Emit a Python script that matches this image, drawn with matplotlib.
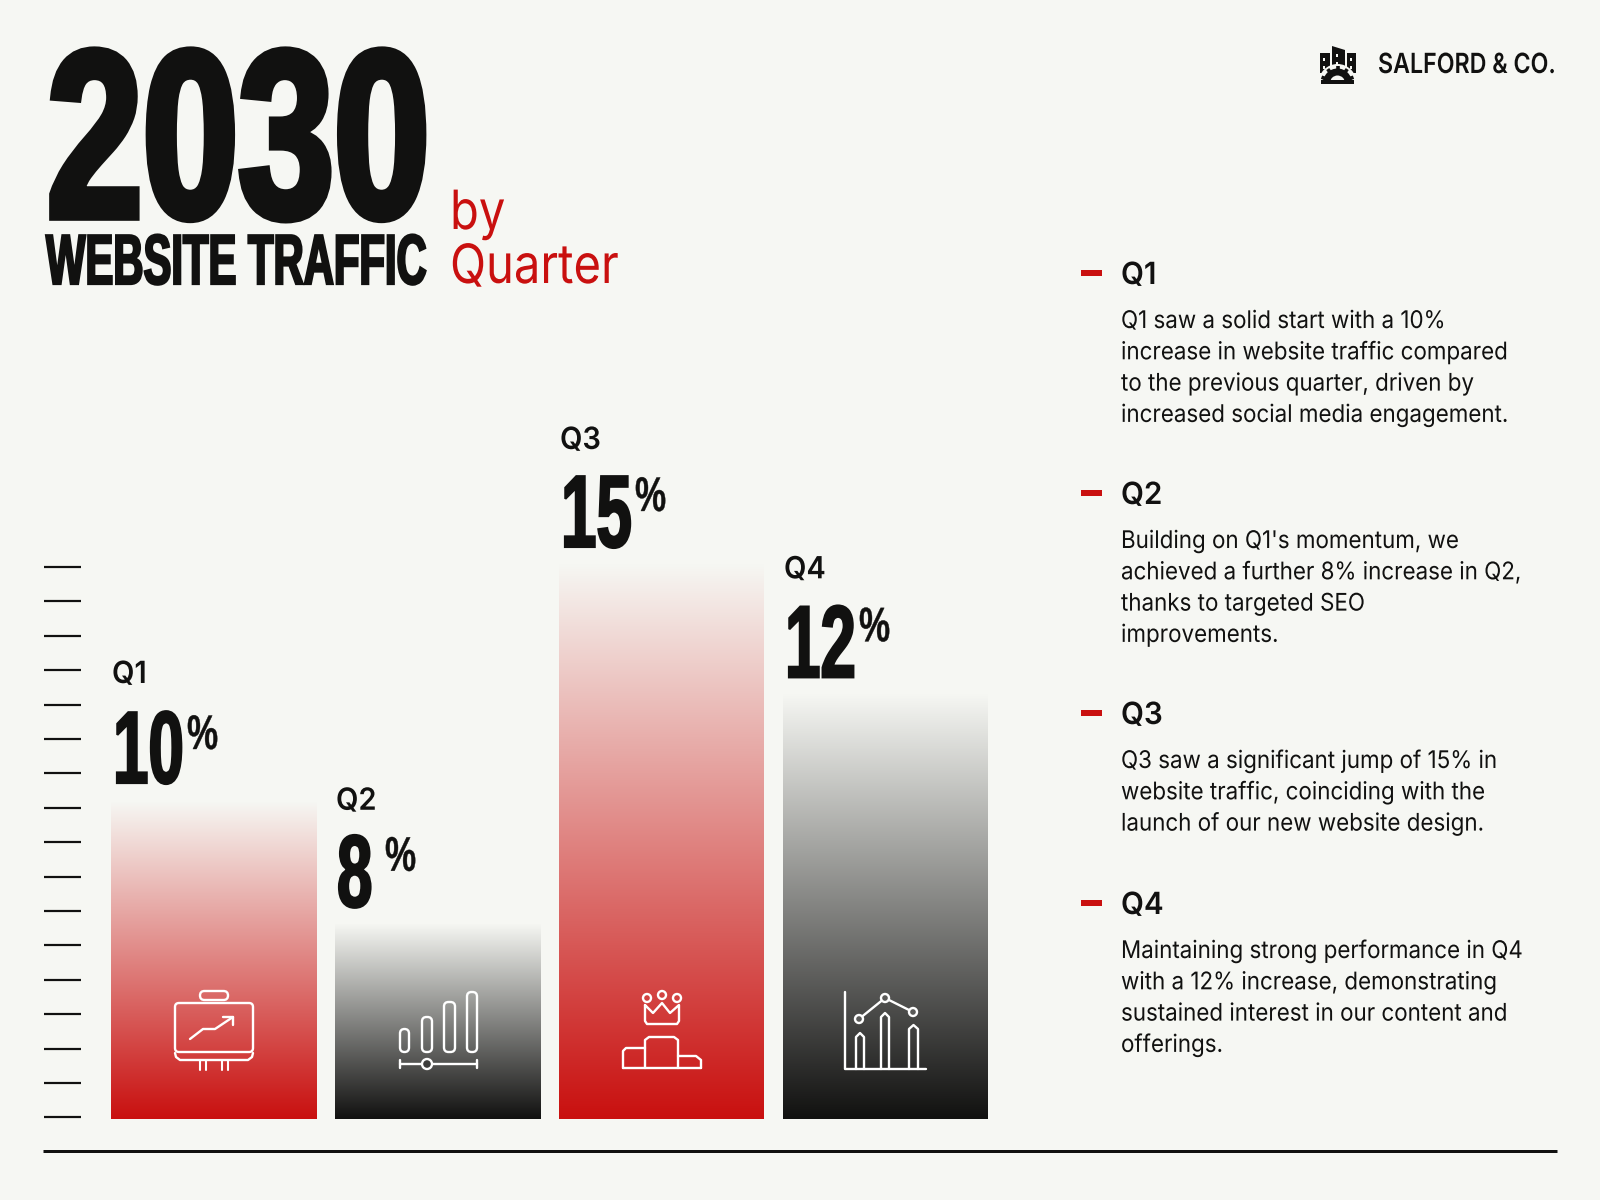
import matplotlib
matplotlib.use('Agg')
import matplotlib.pyplot as plt
import numpy as np
from matplotlib.colors import LinearSegmentedColormap
from matplotlib.patches import Circle, FancyBboxPatch, Polygon, Rectangle, Wedge
from matplotlib.patheffects import AbstractPathEffect
from matplotlib.transforms import Affine2D

BG = '#f6f7f3'
INK = '#111110'
RED = '#c9100f'

quarters = ['Q1', 'Q2', 'Q3', 'Q4']
percents = [10, 8, 15, 12]
# bar heights as read against the tick ruler (bars are not to scale with the %)
ruler_heights = [9.17, 5.63, 16.09, 12.3]
bar_colors = [RED, INK, RED, INK]
ruler_ticks = list(range(17))

notes = [
    ['Q1 saw a solid start with a 10%', 'increase in website traffic compared',
     'to the previous quarter, driven by', 'increased social media engagement.'],
    ["Building on Q1's momentum, we", 'achieved a further 8% increase in Q2,',
     'thanks to targeted SEO', 'improvements.'],
    ['Q3 saw a significant jump of 15% in', 'website traffic, coinciding with the',
     'launch of our new website design.'],
    ['Maintaining strong performance in Q4', 'with a 12% increase, demonstrating',
     'sustained interest in our content and', 'offerings.'],
]
note_tops = [284, 504, 724, 914]
label_lift = [119, 114, 115, 116]
number_lift = [19, 17, 17, 17]


class Squeeze(AbstractPathEffect):
    # narrows the glyphs about the text origin, the text stays a normal Text
    def __init__(self, sx, lw=0.0):
        super().__init__()
        self.sx = sx
        self.lw = lw

    def draw_path(self, renderer, gc, tpath, affine, rgbFace=None):
        gc0 = renderer.new_gc()
        gc0.copy_properties(gc)
        if self.lw:
            gc0.set_linewidth(self.lw)
            gc0.set_foreground(rgbFace)
            gc0.set_joinstyle('miter')
        renderer.draw_path(gc0, tpath, Affine2D().scale(self.sx, 1) + affine, rgbFace)
        gc0.restore()


def px(v):
    return v * 0.72


fig = plt.figure(figsize=(16, 12), dpi=100, facecolor=BG)

# bars + ruler
left, right, base = 81, 988, 1119.5
unit_x, unit_y = 224, 34.4
ymin, ymax = -0.06, 17
ax = fig.add_axes([left / 1600, 1 - base / 1200, (right - left) / 1600,
                   (ymax - ymin) * unit_y / 1200])
ax.patch.set_alpha(0)
width = 205 / 224
xpos = np.arange(len(quarters))
bars = ax.bar(xpos, np.array(ruler_heights) - ymin, width=width, bottom=ymin, color='none')
ramp = np.linspace(0, 1, 256).reshape(-1, 1)
for x, h, col, bar in zip(xpos, ruler_heights, bar_colors, bars):
    cmap = LinearSegmentedColormap.from_list('fade', [col, BG])
    im = ax.imshow(ramp, extent=(x - width / 2, x + width / 2, ymin, h), origin='lower',
                   cmap=cmap, vmin=0, vmax=1, aspect='auto')
    im.set_clip_path(bar)
ax.set_xlim((left - 213.5) / unit_x, (right - 213.5) / unit_x)
ax.set_ylim(ymin, ymax)
ax.set_xticks([])
ax.set_yticks(ruler_ticks)
ax.tick_params(axis='y', length=px(37), width=px(2.2), color=INK, labelleft=False)
for s in ax.spines.values():
    s.set_visible(False)

NUM = dict(family='Liberation Sans', weight='bold', color=INK, ha='left', va='baseline',
           annotation_clip=False, textcoords='offset points')
for x, h, q, p, lift, nlift in zip(xpos, ruler_heights, quarters, percents, label_lift, number_lift):
    x0 = x - width / 2
    ax.annotate(q, (x0, h), xytext=(px(1), px(lift)), fontsize=22, family='Inter', weight=600,
                color=INK, ha='left', va='baseline', annotation_clip=False,
                textcoords='offset points', path_effects=[Squeeze(0.95)])
    ax.annotate(str(p), (x0, h), xytext=(px(2), px(nlift)), fontsize=74,
                path_effects=[Squeeze(0.62, 1.6)], **NUM)
    ax.annotate('%', (x0, h), xytext=(px(76 if p > 9 else 50), px(53)), fontsize=35,
                path_effects=[Squeeze(0.72, 0.3)], **NUM)

# everything that is not data, in pixel coordinates
ov = fig.add_axes([0, 0, 1, 1], zorder=5)
ov.set_xlim(0, 1600)
ov.set_ylim(1200, 0)
ov.axis('off')


def label(x, y, s, size, sx=1.0, lw=0.0, family='Inter', weight='normal', color=INK):
    ov.text(x, y, s, fontsize=size, family=family, weight=weight, color=color, ha='left',
            va='baseline', path_effects=[Squeeze(sx, lw)])


label(47, 217, '2030', 172, sx=0.72, lw=5.5, family='Liberation Sans', weight='bold')
label(46, 284, 'WEBSITE TRAFFIC', 51, sx=0.59, lw=1.6, family='Liberation Sans', weight='bold')
label(450, 229, 'by', 39, sx=0.87, color=RED)
label(450, 283, 'Quarter', 39, sx=0.87, color=RED)
label(1378, 73, 'SALFORD & CO.', 20, sx=0.835, weight=600)

# legend notes
for top, q, lines in zip(note_tops, quarters, notes):
    ov.add_patch(Rectangle((1081, top - 14), 21, 6, color=RED, lw=0))
    label(1121, top, q, 22, sx=0.97, weight=600)
    for k, line in enumerate(lines):
        label(1121, top + 44 + k * 31.3, line, 17.5, sx=0.92)

ov.plot([43, 1557], [1151, 1151], color=INK, lw=px(3), solid_capstyle='butt')


def white(*xy, lw=1.7):
    ov.plot(*xy, color='white', lw=lw, solid_capstyle='round', solid_joinstyle='round', zorder=6)


def pill(x0, y0, x1, y1, r=3):
    ov.add_patch(FancyBboxPatch((x0 + r, y0 + r), x1 - x0 - 2 * r, y1 - y0 - 2 * r,
                                boxstyle='round,pad=%g,rounding_size=%g' % (r, r),
                                fc='none', ec='white', lw=1.7, zorder=6))


def ring(x, y, r=4):
    ov.add_patch(Circle((x, y), r, fc='none', ec='white', lw=1.7, zorder=6))


# Q1 icon: board with arrow
pill(200, 991, 228, 1000, r=4.5)
pill(175, 1003, 253, 1052, r=4)
white([175, 176, 180, 248, 252, 253], [1053, 1057, 1060, 1060, 1057, 1053])
for xl in [200, 206, 222, 228]:
    white([xl, xl], [1060, 1070], lw=1.5)
white([190, 203, 215, 233], [1039, 1029, 1029, 1017])
white([223, 233, 233], [1017, 1017, 1025])

# Q2 icon: pills on a slider
for x0, y0, x1 in [(400, 1029, 409), (422, 1017, 432), (444, 1002, 455), (467, 992, 477)]:
    pill(x0, y0, x1, 1052, r=4.5)
white([400, 477], [1064, 1064])
white([400, 400], [1060, 1068])
white([477, 477], [1060, 1068])
ov.add_patch(Circle((427, 1064), 5, fc='#3c3c3b', ec='white', lw=1.7, zorder=7))

# Q3 icon: crown on podium
for cx, cy in [(647, 998), (662, 995), (677, 998)]:
    ring(cx, cy)
white([645, 653, 662, 670, 679, 679, 677, 647, 645, 645],
      [1005, 1013, 1003, 1013, 1005, 1021, 1024, 1024, 1021, 1005])
white([623, 623, 626, 645], [1068, 1051, 1048, 1048])
white([645, 645, 649, 674, 678, 678], [1068, 1040, 1037, 1037, 1040, 1068])
white([678, 696, 701, 701], [1056, 1056, 1060, 1068])
white([623, 701], [1068, 1068])

# Q4 icon: arches, line and axes
white([845, 845, 926], [992, 1069, 1069])
for x0, x1, ytop in [(856, 864, 1033), (881, 889, 1013), (909, 918, 1025)]:
    xm = (x0 + x1) / 2
    white([x0, x0, xm, x1, x1], [1069, ytop + 4, ytop, ytop + 4, 1069])
white([859, 885, 913], [1019, 998, 1012])
for cx, cy in [(859, 1019), (885, 998), (913, 1012)]:
    ov.add_patch(Circle((cx, cy), 4, fc='#5a5a58', ec='white', lw=1.7, zorder=7))

# logo: three towers over half a gear
ov.add_patch(Polygon([(1332, 46), (1345, 50), (1345, 72), (1332, 72)], color=INK, lw=0))
ov.add_patch(Rectangle((1320, 53), 10, 20, color=INK, lw=0))
ov.add_patch(Rectangle((1347, 53), 8.5, 20, color=INK, lw=0))
for wx, wy in [(1323, 58), (1336, 54), (1336, 62), (1350, 58), (1323, 66), (1350, 66)]:
    ov.add_patch(Rectangle((wx, wy), 2, 2.5, color=BG, lw=0))
ov.add_patch(Wedge((1337.5, 83), 19, 180, 360, color=BG, lw=0))
ov.add_patch(Wedge((1337.5, 83), 14.5, 180, 360, width=7, color=INK, lw=0))
for ang in [200, 235, 270, 305, 340]:
    ca, sa = np.cos(np.radians(ang)), np.sin(np.radians(ang))
    ov.plot([1337.5 + 12 * ca, 1337.5 + 17 * ca], [83 + 12 * sa, 83 + 17 * sa],
            color=INK, lw=2.6, solid_capstyle='butt')
ov.add_patch(Rectangle((1321, 80), 33, 3.5, color=INK, lw=0))

fig.savefig('out.png', dpi=100, facecolor=BG)
